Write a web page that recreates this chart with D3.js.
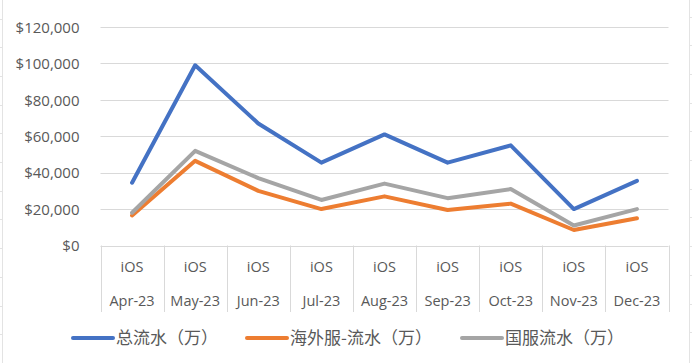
<!DOCTYPE html>
<html>
<head>
<meta charset="utf-8">
<script src="https://cdn.jsdelivr.net/npm/d3@7/dist/d3.min.js"></script>
<style>
  html, body { margin: 0; padding: 0; background: #fff; }
  svg { display: block; }
</style>
</head>
<body>
<svg id="chart" width="692" height="363"></svg>
<script>
// ---- data ----
const platforms = ["iOS", "iOS", "iOS", "iOS", "iOS", "iOS", "iOS", "iOS", "iOS"];
const months = ["Apr-23", "May-23", "Jun-23", "Jul-23", "Aug-23", "Sep-23", "Oct-23", "Nov-23", "Dec-23"];
const totalRevenue = [34500, 99000, 67000, 45500, 61000, 45500, 55000, 20000, 35500];
const overseasRevenue = [16500, 46500, 30000, 20000, 27000, 19500, 23000, 8500, 15000];
const domesticRevenue = [18000, 52000, 37000, 25000, 34000, 26000, 31000, 11000, 20000];
const seriesNames = ["总流水（万）", "海外服-流水（万）", "国服流水（万）"];
const yTicks = [0, 20000, 40000, 60000, 80000, 100000, 120000];

const colors = ["#4472C4", "#ED7D31", "#A5A5A5"];
const seriesData = [totalRevenue, overseasRevenue, domesticRevenue];

const svg = d3.select("#chart");
const W = 692, H = 363;

// ---- spreadsheet background edges ----
const bg = svg.append("g").attr("stroke", "#e3e3e3").attr("stroke-width", 1);
bg.append("line").attr("x1", 2.5).attr("x2", 2.5).attr("y1", 0).attr("y2", H);
bg.append("line").attr("x1", 689.5).attr("x2", 689.5).attr("y1", 0).attr("y2", H);
const rowYs = d3.range(0, 12).map(i => 18.5 + i * 28.7);
rowYs.forEach(y => {
  bg.append("line").attr("x1", 0).attr("x2", 2.5).attr("y1", Math.round(y) + 0.5).attr("y2", Math.round(y) + 0.5);
  bg.append("line").attr("x1", 689.5).attr("x2", 692).attr("y1", Math.round(y) - 1.5).attr("y2", Math.round(y) - 1.5);
});

// ---- scales ----
const plotLeft = 100.5, plotRight = 668.5;
const y = d3.scaleLinear().domain([0, 120000]).range([245.5, 27]);
const x = d3.scaleBand().domain(d3.range(months.length)).range([plotLeft, plotRight]).padding(0);
const xc = i => x(i) + x.bandwidth() / 2;

// ---- gridlines ----
const grid = svg.append("g");
grid.selectAll("line").data(yTicks).join("line")
  .attr("x1", plotLeft).attr("x2", plotRight)
  .attr("y1", d => Math.round(y(d)) + 0.5).attr("y2", d => Math.round(y(d)) + 0.5)
  .attr("stroke", "#d9d9d9").attr("stroke-width", 1);

// ---- y axis labels ----
const fmt = d3.format("$,");
const yAxis = d3.axisLeft(y).tickValues(yTicks).tickFormat(d => fmt(d)).tickSize(0).tickPadding(0);
const yg = svg.append("g").attr("transform", "translate(79.5,0)").call(yAxis);
yg.select(".domain").remove();
yg.selectAll("text")
  .attr("font-family", "'Open Sans', sans-serif")
  .attr("font-size", 15)
  .attr("fill", "#595959")
  .attr("dy", "0.35em");

// ---- x axis (multi-level category) ----
const xg = svg.append("g");
const bounds = d3.range(months.length + 1).map(i => i < months.length ? x(i) : plotRight);
xg.selectAll("line.tick").data(bounds).join("line")
  .attr("class", "tick")
  .attr("x1", d => Math.round(d) + 0.5).attr("x2", d => Math.round(d) + 0.5)
  .attr("y1", 245.5).attr("y2", 312)
  .attr("stroke", "#d9d9d9").attr("stroke-width", 1);

xg.selectAll("text.plat").data(platforms).join("text")
  .attr("class", "plat")
  .attr("x", (d, i) => xc(i)).attr("y", 267)
  .attr("text-anchor", "middle").attr("dy", "0.35em")
  .attr("font-family", "'Open Sans', sans-serif").attr("font-size", 14.5)
  .attr("fill", "#595959")
  .text(d => d);

xg.selectAll("text.month").data(months).join("text")
  .attr("class", "month")
  .attr("x", (d, i) => xc(i)).attr("y", 300.5)
  .attr("text-anchor", "middle").attr("dy", "0.35em")
  .attr("font-family", "'Open Sans', sans-serif").attr("font-size", 14.5)
  .attr("fill", "#595959")
  .text(d => d);

// ---- lines ----
const line = d3.line().x((d, i) => xc(i)).y(d => y(d));
svg.append("g").selectAll("path").data(seriesData).join("path")
  .attr("d", d => line(d))
  .attr("fill", "none")
  .attr("stroke", (d, i) => colors[i])
  .attr("stroke-width", 4)
  .attr("stroke-linejoin", "round")
  .attr("stroke-linecap", "round");

// ---- legend ----
const legendX = [73, 247, 462];
const lg = svg.append("g");
seriesNames.forEach((name, i) => {
  const g = lg.append("g").attr("transform", `translate(${legendX[i]},338)`);
  g.append("line").attr("x1", 0).attr("x2", 40).attr("y1", 0).attr("y2", 0)
    .attr("stroke", colors[i]).attr("stroke-width", 4).attr("stroke-linecap", "round");
  g.append("text").attr("x", 43).attr("y", 0).attr("dy", "0.36em")
    .attr("font-family", "'Noto Sans CJK SC', sans-serif").attr("font-size", 17)
    .attr("fill", "#595959")
    .text(name);
});
</script>
</body>
</html>
